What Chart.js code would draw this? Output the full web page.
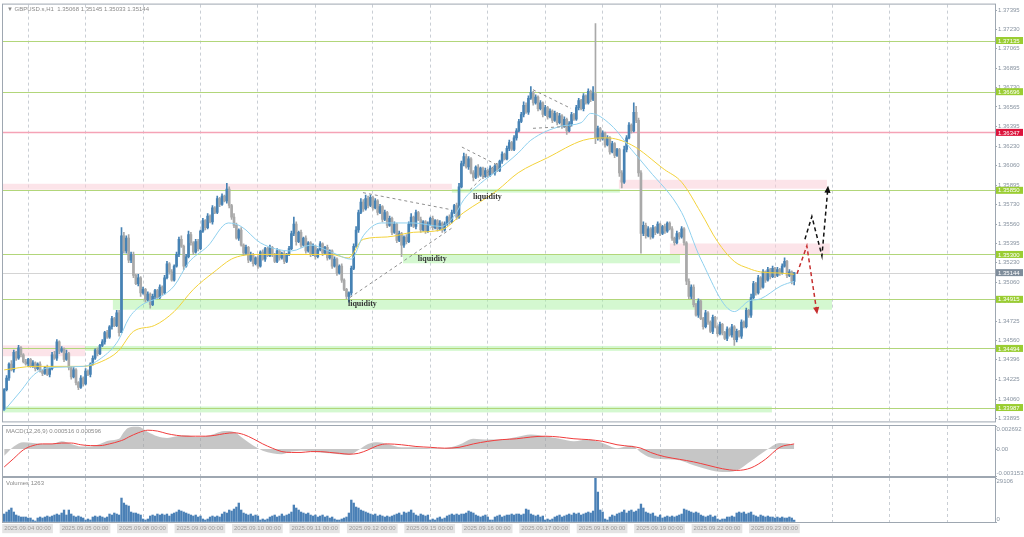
<!DOCTYPE html>
<html>
<head>
<meta charset="utf-8">
<script src="https://cdn.jsdelivr.net/npm/chart.js@4.4.1/dist/chart.umd.min.js"></script>
<style>
  body { margin: 0; background: #fff; }
  #wrap { position: relative; width: 1024px; height: 537px; overflow: hidden; }
  .pane { position: absolute; left: 0; width: 1024px; }
</style>
</head>
<body>
<div id="wrap">
  <div class="pane" style="top:0;height:426px"><canvas id="priceChart"></canvas></div>
  <div class="pane" style="top:420px;height:62px"><canvas id="macdChart"></canvas></div>
  <div class="pane" style="top:471px;height:66px"><canvas id="volChart"></canvas></div>
</div>
<script>
// GBPUSD.s H1, one bar per hour, bar 0 = 2025.09.04 00:00
const symbol = "GBPUSD.s,H1";
const lastBar = [1.35068, 1.35145, 1.35033, 1.35144];
const dayLabels = ["2025.09.04 00:00", "2025.09.05 00:00", "2025.09.08 00:00", "2025.09.09 00:00",
  "2025.09.10 00:00", "2025.09.11 00:00", "2025.09.12 00:00", "2025.09.15 00:00", "2025.09.16 00:00",
  "2025.09.17 00:00", "2025.09.18 00:00", "2025.09.19 00:00", "2025.09.22 00:00", "2025.09.23 00:00"];

const firstOpen = 1.3397;
const closes = [
  1.3414,1.3424,1.3436,1.3431,1.3446,1.3441,1.3450,1.3444,1.3438,1.3436,1.3440,1.3434,1.3437,1.3432,1.3436,1.3430,1.3428,1.3433,1.3427,1.3432,1.3444,1.3441,1.3455,1.3447,
  1.3449,1.3440,1.3445,1.3433,1.3425,1.3431,1.3420,1.3416,1.3424,1.3419,1.3430,1.3427,1.3436,1.3441,1.3448,1.3445,1.3452,1.3455,1.3463,1.3459,1.3468,1.3475,1.3469,1.3480,
  1.3463,1.3546,1.3533,1.3544,1.3525,1.3530,1.3512,1.3505,1.3510,1.3497,1.3500,1.3491,1.3496,1.3487,1.3494,1.3499,1.3493,1.3502,1.3497,1.3510,1.3522,1.3515,1.3508,1.3520,
  1.3530,1.3543,1.3537,1.3520,1.3528,1.3547,1.3540,1.3532,1.3541,1.3535,1.3550,1.3559,1.3553,1.3563,1.3558,1.3570,1.3566,1.3578,1.3573,1.3580,1.3576,1.3586,1.3572,1.3562,
  1.3555,1.3544,1.3551,1.3538,1.3531,1.3536,1.3525,1.3530,1.3522,1.3527,1.3520,1.3532,1.3526,1.3535,1.3529,1.3536,1.3530,1.3524,1.3533,1.3527,1.3531,1.3524,1.3530,1.3535,
  1.3548,1.3556,1.3541,1.3549,1.3538,1.3544,1.3533,1.3540,1.3530,1.3537,1.3528,1.3534,1.3539,1.3531,1.3536,1.3527,1.3533,1.3520,1.3526,1.3514,1.3520,1.3508,1.3500,1.3494,
  1.3497,1.3518,1.3537,1.3551,1.3566,1.3575,1.3569,1.3578,1.3572,1.3579,1.3570,1.3576,1.3566,1.3571,1.3560,1.3566,1.3555,1.3561,1.3549,1.3556,1.3542,1.3548,1.3538,1.3545,
  1.3541,1.3556,1.3562,1.3554,1.3566,1.3560,1.3551,1.3558,1.3550,1.3556,1.3561,1.3553,1.3559,1.3552,1.3557,1.3551,1.3556,1.3562,1.3558,1.3566,1.3572,1.3562,1.3588,1.3608,
  1.3614,1.3605,1.3612,1.3600,1.3596,1.3605,1.3598,1.3604,1.3597,1.3602,1.3598,1.3604,1.3600,1.3606,1.3602,1.3610,1.3616,1.3612,1.3621,1.3626,1.3620,1.3630,1.3636,1.3644,
  1.3650,1.3658,1.3652,1.3664,1.3669,1.3660,1.3665,1.3655,1.3660,1.3650,1.3656,1.3648,1.3653,1.3645,1.3651,1.3643,1.3649,1.3640,1.3646,1.3636,1.3642,1.3650,1.3646,1.3656,
  1.3662,1.3655,1.3666,1.3660,1.3670,1.3663,1.3668,1.3630,1.3638,1.3629,1.3634,1.3624,1.3630,1.3618,1.3625,1.3615,1.3620,1.3600,1.3592,1.3620,1.3630,1.3641,1.3636,1.3652,
  1.3645,1.3600,1.3548,1.3555,1.3546,1.3552,1.3545,1.3553,1.3549,1.3556,1.3548,1.3554,1.3550,1.3557,1.3552,1.3544,1.3540,1.3548,1.3545,1.3552,1.3540,1.3507,1.3494,1.3502,
  1.3487,1.3478,1.3490,1.3475,1.3468,1.3480,1.3472,1.3464,1.3476,1.3468,1.3462,1.3470,1.3463,1.3458,1.3466,1.3461,1.3468,1.3457,1.3464,1.3460,1.3472,1.3468,1.3482,1.3478,
  1.3493,1.3505,1.3497,1.3510,1.3502,1.3515,1.3508,1.3517,1.3511,1.3518,1.3512,1.3517,1.3514,1.3520,1.3524,1.3512,1.3515,1.35068,1.35144
];
// wick lengths beyond the body, in pips
const upWick = [
  1,2,1,3,2,1,2,1,1,2,1,1,2,1,1,2,1,1,2,1,2,3,2,1,
  2,1,3,1,1,2,1,1,2,1,2,1,1,2,1,2,1,2,1,2,1,2,1,2,
  2,7,3,2,3,2,2,1,3,1,2,1,2,1,2,1,1,2,1,2,2,1,2,1,
  2,2,3,1,2,3,2,1,2,2,1,2,1,2,1,2,1,2,1,2,1,5,2,1,
  3,2,1,2,1,2,1,2,1,1,2,1,2,1,1,2,1,1,2,1,1,2,1,2,
  2,6,2,1,2,1,2,1,1,2,1,1,2,1,1,2,1,1,2,1,1,2,1,1,
  1,2,2,3,2,3,2,3,2,2,1,2,1,2,1,2,1,2,1,2,1,2,1,1,
  2,2,3,1,2,1,2,1,1,2,1,2,1,1,2,1,2,1,2,2,1,2,3,2,
  3,2,2,1,2,1,2,1,1,2,1,2,1,1,2,1,2,1,2,2,1,2,2,2,
  2,3,2,2,5,1,2,1,2,1,2,1,2,1,2,1,2,1,2,1,2,2,1,2,
  2,1,2,1,2,1,6,60,2,1,2,1,2,1,2,1,1,1,2,3,2,2,1,8,
  5,2,2,3,2,2,1,2,1,2,1,1,2,1,1,2,1,2,1,2,1,1,2,2,
  2,1,2,1,1,2,1,1,2,1,1,2,1,1,2,1,2,1,2,1,2,1,2,1,
  3,2,1,2,1,2,1,2,1,2,1,2,1,2,3,1,2,1,0
];
const downWick = [
  1,1,2,1,2,2,1,2,1,1,2,1,1,2,1,1,2,1,1,2,1,1,2,2,
  1,2,1,2,2,1,2,2,1,2,1,1,2,1,1,2,1,1,2,1,1,2,1,1,
  3,0,2,2,2,2,2,1,2,3,1,2,1,3,1,2,1,1,2,1,1,2,1,1,
  1,2,1,3,1,1,2,2,1,2,1,1,2,1,1,2,1,1,2,1,1,2,2,2,
  2,1,2,1,2,1,2,1,2,1,2,1,1,2,1,1,2,1,1,2,1,2,1,1,
  1,2,3,1,2,1,2,1,2,1,2,1,1,2,1,2,1,2,1,2,1,2,1,2,
  5,2,1,1,2,1,2,1,2,1,2,1,2,1,2,1,2,1,2,1,2,1,10,2,
  2,1,2,1,2,1,2,1,2,1,1,2,1,2,1,2,1,1,2,1,1,2,1,1,
  2,1,2,1,3,1,2,1,2,1,2,1,1,2,1,1,2,1,1,2,1,1,2,1,
  1,2,1,2,1,2,1,2,1,2,1,2,1,2,1,2,1,2,1,3,1,2,1,1,
  2,1,2,1,1,2,1,5,2,2,1,2,1,2,1,2,1,3,5,1,2,1,2,1,
  2,3,17,2,2,1,2,1,2,1,2,1,2,1,1,2,2,1,2,1,2,3,2,2,
  2,1,2,1,2,1,2,1,2,1,2,1,2,1,2,1,2,5,2,1,2,1,1,2,
  2,1,2,1,2,1,2,1,2,1,2,1,2,1,1,2,1,2,3
];
const volumes = [
  5280,6600,7920,9240,6600,4620,3960,3300,3300,3300,2640,2640,1320,660,2640,3300,2640,3300,3960,3300,3960,4620,5280,4620,
  5940,7920,4620,7920,5280,3960,3300,3960,3300,2640,1320,1980,1320,3300,3960,3300,3960,3300,2640,3300,5280,4620,5940,5280,
  4620,15840,12540,11220,10560,6600,5940,5940,5280,4620,1980,1320,1980,3960,4620,3960,5280,4620,5280,4620,5280,3960,5280,5940,
  6600,7920,7260,6600,5940,5280,4620,3960,4620,3300,3960,1980,1320,1980,3300,3960,3300,3960,3300,5280,6600,5940,7920,7260,
  8580,9900,12540,7920,5940,5280,4620,5280,3960,4620,3960,1320,1980,1320,1980,3300,3960,4620,3300,3960,5280,3960,4620,5280,
  6600,11220,9240,7920,6600,5940,5280,5940,4620,3960,4620,3300,3960,4620,3300,3960,2640,3300,1980,1320,1320,1980,2640,3300,
  5940,14520,12540,9900,9240,7920,7260,6600,5940,5280,4620,5280,3960,4620,3960,3300,3960,3300,3960,4620,5280,5940,4620,6600,
  5940,6600,7920,5940,4620,3960,5280,4620,3960,4620,1320,1980,1320,2640,3300,1980,2640,3960,4620,5280,4620,5280,4620,5280,
  5280,5940,7260,6600,5940,4620,3960,3300,3960,4620,3300,1320,1320,3300,3960,4620,3300,3960,4620,4620,5280,4620,5280,5280,
  4620,5280,8580,7920,5280,4620,3960,4620,3300,3960,1320,1980,1320,1980,3300,3960,4620,3300,3960,4620,5280,4620,5940,5280,
  5940,4620,5280,5940,6600,5940,7260,29106,19800,7920,6600,1980,1320,3300,4620,3960,5280,5940,6600,7920,5940,7260,7920,6600,
  7260,8580,11880,9240,6600,5940,5280,5940,3960,3300,4620,2640,3300,3960,3300,3960,3300,3960,4620,5280,8580,7920,7260,6600,
  5940,6600,5940,4620,3960,3300,3960,4620,3300,3960,1980,1320,1980,1980,3300,3300,3960,3300,5940,6600,5940,6600,5280,5940,
  6600,4620,3960,3300,4620,3960,3300,3960,3300,3300,2640,3300,2640,3300,2640,2640,3300,2640,1263
];

// moving averages (bar index, price)
const fastMaIdx = [0,7,12.5,19.6,33,40.5,47.6,52,57,65.6,71,77,85,93.6,99,107,120,128,136.6,145,150,157.5,171,182.5,188,192,199,206,214.7,220,232.7,241,245,253.5,262,269,283,291,305,311,316,324.5,330];
const fastMa = [1.3396,1.3413,1.3427,1.3433,1.3434,1.3441,1.3456,1.3475,1.3486,1.3494,1.3503,1.3523,1.3537,1.3557,1.3554,1.3540,1.3533,1.3538,1.3532,1.3526,1.3546,1.3557,1.3557,1.3554,1.3563,1.3577,1.3591,1.3602,1.3617,1.3628,1.3640,1.3643,1.3651,1.3641,1.3620,1.3603,1.3566,1.3526,1.3481,1.3490,1.3492,1.3503,1.3507];
const slowMaIdx = [0,12.5,33,40.5,47.6,54,62.7,71,79,87.7,96,107,136.6,143.7,150,160,171,182.5,192,206,214.7,227,242,251.5,262,275.7,283,291,298,305,311,316,324.5,330];
const slowMa = [1.3431,1.3434,1.3434,1.3438,1.3447,1.3464,1.3469,1.3481,1.3500,1.3515,1.3527,1.3530,1.3530,1.3527,1.3543,1.3545,1.3549,1.3551,1.3566,1.3585,1.3600,1.3613,1.3628,1.3630,1.3624,1.3603,1.3592,1.3566,1.3541,1.3524,1.3518,1.3515,1.3514,1.3513];

// MACD(12,26,9)
const macdIdx = [0,4,8,12,16,20,24,28,32,36,40,44,48,50,52,56,60,64,68,72,76,80,84,88,92,96,100,104,108,112,116,120,124,128,132,136,140,144,148,152,156,160,166,172,178,184,190,196,202,208,214,220,226,232,238,244,250,256,262,266,270,276,282,288,294,300,306,312,318,324,330];
const macdMain = [-0.0008,0.0003,0.0008,0.0007,0.0006,0.0006,0.0009,0.0006,0.0003,0.0003,0.0006,0.0010,0.0012,
  0.0020,0.0025,0.0026,0.0020,0.0015,0.0013,0.0015,0.0016,0.0014,0.0015,0.0018,0.0021,0.0020,0.0012,0.0004,-0.0002,-0.0005,-0.0006,-0.0003,-0.0002,-0.0003,-0.0004,-0.0005,-0.0006,-0.0007,-0.0001,0.0006,0.0008,0.0006,
  0.0002,0.0002,0.0001,0.0001,0.0005,0.0012,0.0011,0.0011,0.0014,0.0017,0.0015,0.0012,0.0009,0.0011,0.0007,0.0001,0.0004,
  -0.0004,-0.0010,-0.0012,-0.0013,-0.0019,-0.0024,-0.0027,-0.0025,-0.0014,-0.0002,0.0007,0.000516];
const macdSignal = [-0.0021,-0.0011,-0.0001,0.0004,0.0006,0.0006,0.0007,0.0007,0.0005,0.0004,0.0004,0.0006,0.0009,
  0.0011,0.0014,0.0019,0.0022,0.0021,0.0018,0.0016,0.0015,0.0015,0.0015,0.0016,0.0018,0.0019,0.0017,0.0012,0.0006,0.0001,-0.0003,-0.0004,-0.0004,-0.0003,-0.0003,-0.0004,-0.0005,-0.0006,-0.0005,-0.0001,0.0004,0.0006,
  0.0005,0.0003,0.0002,0.0001,0.0002,0.0006,0.0009,0.0011,0.0012,0.0014,0.0015,0.0014,0.0012,0.0011,0.0009,0.0005,0.0003,
  0.0001,-0.0004,-0.0009,-0.0012,-0.0015,-0.0019,-0.0023,-0.0025,-0.0022,-0.0012,0.0002,0.000596];

// horizontal levels and zones
const levelPrice = [1.37135, 1.36696, 1.36347, 1.35850, 1.35300, 1.34915, 1.34494, 1.33987];
const levelType = ["support", "support", "resistance", "support", "support", "support", "support", "support"];
const currentPrice = 1.35144;
const zoneStart = [-0.5, 187, 256.8, 166.6, 278.1, 45.4, -0.5, 33.8, -0.5];
const zoneEnd = [187, 257.2, 343.7, 282.3, 344.9, 345.8, 33.8, 320.7, 320.7];
const zoneTop = [1.35906, 1.35862, 1.35940, 1.35300, 1.35394, 1.34915, 1.34520, 1.34515, 1.33996];
const zoneBottom = [1.35855, 1.35830, 1.35864, 1.35224, 1.35300, 1.34826, 1.34427, 1.34473, 1.33945];
const zoneType = ["supply", "demand", "supply", "demand", "supply", "demand", "supply", "demand", "demand"];

// hand drawn objects
const trendFromIdx = [144.4, 149.9, 191.2, 194.6, 220.9, 220.9];
const trendFromPrice = [1.34930, 1.35830, 1.36221, 1.35855, 1.36713, 1.36382];
const trendToIdx = [187.5, 186.2, 205.9, 205.9, 236.8, 236.8];
const trendToPrice = [1.35533, 1.35686, 1.36068, 1.36085, 1.36552, 1.36399];
const liquidityIdx = [143.6, 172.8, 195.8];
const liquidityPrice = [1.34878, 1.35261, 1.35796];
const bullPathIdx = [334.5, 337.4, 341.6, 344.1];
const bullPathPrice = [1.35431, 1.35626, 1.35287, 1.35873];
const bearPathIdx = [331.2, 335.3, 339.5];
const bearPathPrice = [1.35135, 1.35373, 1.34804];

const priceTicks = [1.37395,1.37230,1.37065,1.36895,1.36730,1.36565,1.36395,1.36230,1.36060,1.35895,1.35730,1.35560,1.35395,1.35230,1.35060,1.34895,1.34725,1.34560,1.34396,1.34225,1.34060,1.33895];
const PRICE_MIN = 1.33868, PRICE_MAX = 1.37443;
const MACD_MIN = -0.003153, MACD_MAX = 0.002692;
const VOL_MAX = 29106;
const X_MIN = -0.5, X_MAX = 413.9;

const UP = "#4682b4", DOWN = "#a9a9a9";
const GREEN = "#b2d67a", GREEN_BOX = "#9acd32", RED = "#f5a3b6", RED_BOX = "#dc143c";
const FRAME = "#9ea7b1", AXIS_TEXT = "#8893a0";
const FONT = "Liberation Sans, DejaVu Sans, sans-serif";

const PIP = 0.0001;
const opens = closes.map((c, i) => (i === 0 ? firstOpen : closes[i - 1]));
const highs = closes.map((c, i) => Math.max(opens[i], c) + upWick[i] * PIP);
const lows = closes.map((c, i) => Math.min(opens[i], c) - downWick[i] * PIP);
const candleColor = ctx => (closes[ctx.dataIndex] >= opens[ctx.dataIndex] ? UP : DOWN);

const pts = (xs, ys) => xs.map((x, i) => ({ x: x, y: ys[i] }));
const trendPts = [];
trendFromIdx.forEach((a, k) => {
  trendPts.push({ x: a, y: trendFromPrice[k] }, { x: trendToIdx[k], y: trendToPrice[k] }, { x: trendToIdx[k], y: null });
});

const dayTicks = dayLabels.map((_, k) => k * 24);
const gridTicks = [];
for (let v = 10; v < X_MAX; v += 24) gridTicks.push(v);
const xTicks = dayTicks.concat(gridTicks).sort((a, b) => a - b);
const isDay = v => v % 24 === 0;

function xAxis(withLabels) {
  return {
    type: "linear", min: X_MIN, max: X_MAX, offset: false,
    afterBuildTicks: s => { s.ticks = xTicks.map(v => ({ value: v })); },
    afterFit: s => { s.height = withLabels ? 15 : 0; },
    grid: { offset: false, drawTicks: false, lineWidth: 1,
      color: c => (c.tick && !isDay(c.tick.value) ? "#c9ced4" : "rgba(0,0,0,0)") },
    border: { display: false, dash: [3, 3] },
    ticks: {
      display: withLabels, autoSkip: false, maxRotation: 0, minRotation: 0, align: "start", padding: 3,
      color: "#9a9a9a", font: { size: 6, family: FONT },
      callback: v => (isDay(v) ? dayLabels[v / 24] : ""),
      showLabelBackdrop: c => !!(c.tick && isDay(c.tick.value)),
      backdropColor: c => (c.tick && isDay(c.tick.value) ? "#e4e4e4" : "rgba(0,0,0,0)"),
      backdropPadding: { x: 2, y: 1 }
    }
  };
}

function yAxis(min, max, ticks, fmt, showLabels) {
  return {
    position: "right", min: min, max: max,
    afterBuildTicks: s => { s.ticks = ticks.map(v => ({ value: v })); },
    afterFit: s => { s.width = 29; },
    grid: { drawOnChartArea: false, drawTicks: true, tickLength: 2, color: FRAME },
    border: { display: false },
    ticks: { display: showLabels, color: AXIS_TEXT, font: { size: 6, family: FONT }, padding: 1, autoSkip: false, callback: fmt }
  };
}

// sub-window scales put their top and bottom labels inside the pane
function paneAxisLabels(values, fmt) {
  return {
    id: "paneAxisLabels",
    afterDraw(chart) {
      const { ctx, chartArea: a, scales: { y } } = chart;
      ctx.save();
      ctx.font = "6px " + FONT;
      ctx.fillStyle = AXIS_TEXT;
      values.forEach(v => {
        const py = y.getPixelForValue(v);
        ctx.textBaseline = py <= a.top + 1 ? "top" : (py >= a.bottom - 1 ? "bottom" : "middle");
        ctx.fillText(fmt(v), a.right + 1.5, py);
      });
      ctx.restore();
    }
  };
}

const frame = {
  id: "frame",
  afterDraw(chart) {
    const { ctx, chartArea: a } = chart;
    ctx.save();
    ctx.strokeStyle = FRAME;
    ctx.lineWidth = 1;
    ctx.strokeRect(a.left - 0.5, a.top - 0.5, a.width + 1, a.height + 1);
    ctx.restore();
  }
};

function paneTitle(text) {
  return {
    id: "paneTitle",
    afterDraw(chart) {
      const { ctx, chartArea: a } = chart;
      ctx.save();
      ctx.fillStyle = "#8a8a8a";
      ctx.font = "6px " + FONT;
      ctx.textBaseline = "middle";
      ctx.fillText(text, a.left + 3, a.top + 5);
      ctx.restore();
    }
  };
}

const priceOverlay = {
  id: "priceOverlay",
  beforeDatasetsDraw(chart) {
    const { ctx, chartArea: a, scales: { x, y } } = chart;
    ctx.save();
    ctx.beginPath();
    ctx.rect(a.left, a.top, a.width, a.height);
    ctx.clip();
    zoneStart.forEach((s, k) => {
      const x0 = x.getPixelForValue(s), x1 = x.getPixelForValue(zoneEnd[k]);
      const y0 = y.getPixelForValue(zoneTop[k]), y1 = y.getPixelForValue(zoneBottom[k]);
      ctx.fillStyle = zoneType[k] === "supply" ? "rgba(250,205,215,0.55)" : "rgba(160,240,150,0.45)";
      ctx.fillRect(x0, y0, x1 - x0, y1 - y0);
    });
    ctx.lineWidth = 1;
    ctx.strokeStyle = "#d4d4d4";
    let py = Math.round(y.getPixelForValue(currentPrice)) + 0.5;
    ctx.beginPath(); ctx.moveTo(a.left, py); ctx.lineTo(a.right, py); ctx.stroke();
    levelPrice.forEach((p, k) => {
      py = Math.round(y.getPixelForValue(p)) + 0.5;
      ctx.strokeStyle = levelType[k] === "resistance" ? RED : GREEN;
      ctx.lineWidth = levelType[k] === "resistance" ? 1.5 : 1;
      ctx.beginPath(); ctx.moveTo(a.left, py); ctx.lineTo(a.right, py); ctx.stroke();
    });
    ctx.restore();
  },
  afterDatasetsDraw(chart) {
    const { ctx, scales: { x, y } } = chart;
    ctx.save();
    ctx.fillStyle = "#333";
    ctx.font = "bold 8px Liberation Serif, DejaVu Serif, serif";
    ctx.textBaseline = "middle";
    liquidityIdx.forEach((v, k) => ctx.fillText("liquidity", x.getPixelForValue(v), y.getPixelForValue(liquidityPrice[k])));
    const head = (xs, ys, color) => {
      const n = xs.length;
      const x1 = x.getPixelForValue(xs[n - 1]), y1 = y.getPixelForValue(ys[n - 1]);
      const x0 = x.getPixelForValue(xs[n - 2]), y0 = y.getPixelForValue(ys[n - 2]);
      const ang = Math.atan2(y1 - y0, x1 - x0);
      ctx.fillStyle = color;
      ctx.beginPath();
      ctx.moveTo(x1 + Math.cos(ang) * 2, y1 + Math.sin(ang) * 2);
      ctx.lineTo(x1 + Math.cos(ang + 2.6) * 6, y1 + Math.sin(ang + 2.6) * 6);
      ctx.lineTo(x1 + Math.cos(ang - 2.6) * 6, y1 + Math.sin(ang - 2.6) * 6);
      ctx.closePath();
      ctx.fill();
    };
    head(bullPathIdx, bullPathPrice, "#111");
    head(bearPathIdx, bearPathPrice, "#c62f2f");
    ctx.restore();
  },
  afterDraw(chart) {
    const { ctx, chartArea: a, scales: { y } } = chart;
    ctx.save();
    ctx.font = "6px " + FONT;
    ctx.textBaseline = "middle";
    const box = (p, color) => {
      const py = y.getPixelForValue(p);
      ctx.fillStyle = color;
      ctx.fillRect(a.right + 1, py - 3.5, 27, 7);
      ctx.fillStyle = "#fff";
      ctx.fillText(p.toFixed(5), a.right + 3, py + 0.5);
    };
    levelPrice.forEach((p, k) => box(p, levelType[k] === "resistance" ? RED_BOX : GREEN_BOX));
    box(currentPrice, "#7e8c9a");
    ctx.fillStyle = "#8a8a8a";
    ctx.fillText("\u25BC " + symbol + "  " + lastBar.map(v => v.toFixed(5)).join(" "), a.left + 4, a.top + 5);
    ctx.restore();
  }
};

const common = {
  responsive: true, maintainAspectRatio: false, animation: false, events: [],
  plugins: { legend: { display: false }, tooltip: { enabled: false } }
};

new Chart(document.getElementById("priceChart"), {
  type: "bar",
  data: {
    datasets: [
      { type: "line", data: trendPts, borderColor: "#8f8f8f", borderWidth: 1, borderDash: [3, 3], pointRadius: 0, spanGaps: false, order: 0 },
      { type: "line", data: pts(bullPathIdx, bullPathPrice), borderColor: "#111", borderWidth: 1.5, borderDash: [4, 3], pointRadius: 0, order: 0 },
      { type: "line", data: pts(bearPathIdx, bearPathPrice), borderColor: "#c62f2f", borderWidth: 1.5, borderDash: [4, 3], pointRadius: 0, order: 0 },
      { type: "line", data: pts(fastMaIdx, fastMa), borderColor: "#8fd0ee", borderWidth: 1, pointRadius: 0, cubicInterpolationMode: "monotone", order: 1 },
      { type: "line", data: pts(slowMaIdx, slowMa), borderColor: "#f3d23a", borderWidth: 1, pointRadius: 0, cubicInterpolationMode: "monotone", order: 1 },
      { data: closes.map((c, i) => ({ x: i, y: [opens[i], c] })), backgroundColor: candleColor, barThickness: 2, minBarLength: 1, grouped: false, order: 2 },
      { data: closes.map((c, i) => ({ x: i, y: [lows[i], highs[i]] })), backgroundColor: candleColor, barThickness: 1, grouped: false, order: 3 }
    ]
  },
  options: Object.assign({}, common, {
    layout: { padding: { left: 3, top: 3, right: 0, bottom: 2 } },
    scales: { x: xAxis(false), y: yAxis(PRICE_MIN, PRICE_MAX, priceTicks, v => v.toFixed(5), true) }
  }),
  plugins: [priceOverlay, frame]
});

const macdFmt = v => (v === 0 ? "0.00" : v.toFixed(6));
new Chart(document.getElementById("macdChart"), {
  type: "line",
  data: {
    datasets: [
      { data: pts(macdIdx, macdSignal), borderColor: "#f03c3c", borderWidth: 1, pointRadius: 0, cubicInterpolationMode: "monotone" },
      { data: pts(macdIdx, macdMain), borderWidth: 0, backgroundColor: "rgba(160,160,160,0.6)", fill: "origin", pointRadius: 0, cubicInterpolationMode: "monotone" }
    ]
  },
  options: Object.assign({}, common, {
    layout: { padding: { left: 3, top: 6, right: 0, bottom: 6 } },
    scales: { x: xAxis(false), y: yAxis(MACD_MIN, MACD_MAX, [MACD_MIN, 0, MACD_MAX], macdFmt, false) }
  }),
  plugins: [frame, paneAxisLabels([MACD_MAX, 0, MACD_MIN], macdFmt),
    paneTitle("MACD(12,26,9) " + macdMain[macdMain.length - 1].toFixed(6) + " " + macdSignal[macdSignal.length - 1].toFixed(6))]
});

new Chart(document.getElementById("volChart"), {
  type: "bar",
  data: {
    datasets: [
      { data: volumes.map((v, i) => ({ x: i, y: v })), backgroundColor: "#4a80b6", barThickness: 1.7, grouped: false }
    ]
  },
  options: Object.assign({}, common, {
    layout: { padding: { left: 3, top: 7, right: 0, bottom: 0 } },
    scales: { x: xAxis(true), y: yAxis(0, VOL_MAX, [0, VOL_MAX], v => String(v), false) }
  }),
  plugins: [frame, paneAxisLabels([VOL_MAX, 0], v => String(v)), paneTitle("Volumes " + volumes[volumes.length - 1])]
});
</script>
</body>
</html>
